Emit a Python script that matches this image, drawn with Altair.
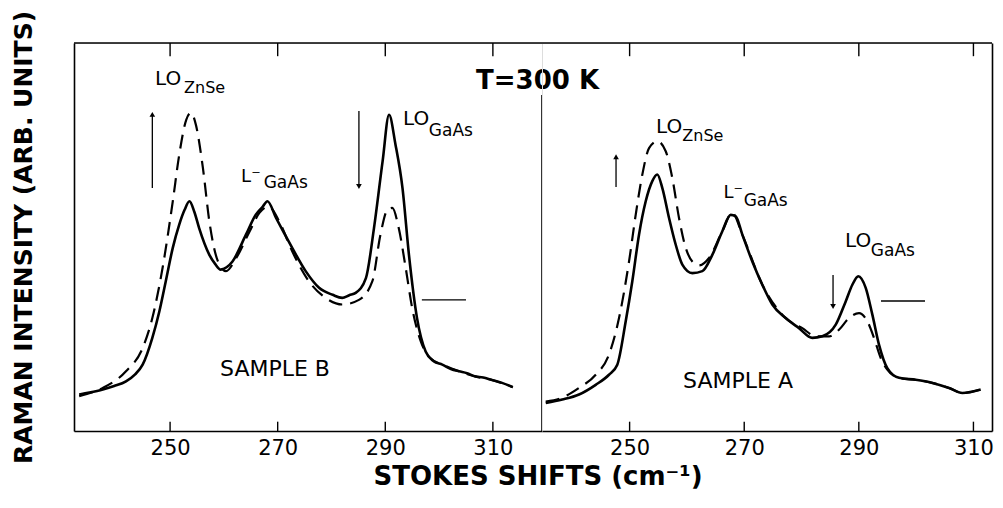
import altair as alt
import pandas as pd

# ---------------- data ----------------
# Sample B (left panel): solid and dashed spectra
B_solid_x = [233.1, 235.0, 237.5, 239.6, 241.8, 243.5, 244.9, 246.7, 248.0, 249.2, 250.5, 251.7, 252.7,
             253.6, 254.5, 255.4, 257.3, 258.4, 259.4, 260.5, 261.6, 264.1, 265.9, 267.2, 268.1, 269.7,
             271.2, 272.7, 275.2, 277.7, 280.2, 282.0, 283.3, 284.5, 286.4, 287.9, 289.5, 290.7, 291.9,
             293.2, 294.4, 295.9, 297.5, 299.0, 300.6, 302.2, 303.7, 305.2, 306.6, 308.2, 309.7, 311.7, 313.7]
B_solid_y = [9.4, 9.9, 10.7, 11.6, 12.8, 14.6, 17.1, 24.0, 30.8, 38.6, 47.2, 53.2, 57.0,
             59.2, 56.5, 52.3, 45.4, 43.0, 41.6, 42.2, 43.7, 50.6, 55.7, 57.8, 59.2, 54.9,
             51.0, 47.2, 41.2, 36.9, 35.1, 34.3, 35.0, 35.6, 39.4, 52.3, 69.5, 81.5, 73.8,
             62.6, 45.4, 29.1, 20.5, 18.0, 17.1, 16.0, 15.4, 14.9, 14.1, 13.8, 13.2, 12.4, 11.3]
B_dash_x = [233.1, 237.5, 241.8, 244.9, 246.7, 248.6, 250.5, 251.7, 253.0, 253.9, 254.8, 256.1, 257.3,
            258.9, 260.4, 262.3, 264.8, 266.6, 268.3, 270.3, 272.7, 275.8, 278.9, 282.0, 285.1, 287.6,
            289.1, 290.4, 291.3, 292.5, 293.8, 295.0, 296.6, 298.5, 300.6, 303.7, 306.6, 309.7, 313.7]
B_dash_y = [9.0, 11.1, 15.4, 21.4, 29.1, 42.0, 59.2, 71.2, 80.2, 82.0, 78.9, 67.8, 54.0,
            43.7, 41.2, 44.6, 51.5, 56.2, 57.9, 54.0, 46.3, 38.6, 34.3, 32.6, 33.8, 38.6,
            50.6, 57.0, 57.5, 52.3, 42.0, 31.7, 23.1, 18.6, 17.1, 15.4, 14.1, 13.2, 11.3]

# Sample A (right panel)
A_solid_x = [235.36, 238.25, 241.17, 244.08, 246.4, 247.85, 249.32, 250.47, 251.64, 252.81, 253.96,
             254.83, 255.71, 256.88, 258.05, 259.2, 260.94, 262.69, 264.43, 266.18, 267.64, 268.52,
             269.67, 271.41, 273.16, 274.9, 277.24, 279.56, 281.88, 283.63, 285.97, 287.71, 288.87,
             289.91, 291.2, 292.36, 293.53, 294.97, 297.02, 299.93, 302.83, 305.74, 308.06, 311.27]
A_solid_y = [7.2, 8.1, 9.4, 11.9, 14.5, 17.1, 28.3, 38.6, 50.6, 59.2, 64.4,
             66.1, 62.6, 54.9, 48.0, 42.9, 40.7, 41.2, 45.4, 51.5, 55.7, 55.3,
             50.6, 43.7, 37.7, 32.6, 29.1, 26.5, 24.0, 24.4, 27.4, 33.4, 37.7,
             39.9, 36.9, 30.0, 22.2, 16.2, 13.7, 13.2, 12.4, 11.1, 9.8, 10.7]
A_dash_x = [235.36, 238.25, 241.17, 244.08, 246.4, 248.15, 249.9, 251.06, 252.22, 253.39, 254.83,
            256.3, 257.45, 258.62, 259.79, 260.94, 262.11, 263.86, 266.18, 267.92, 269.67, 273.16,
            277.24, 280.14, 282.48, 284.8, 286.54, 288.29, 290.03, 291.48, 292.65, 293.82, 294.97,
            297.02, 299.93, 302.83, 305.74, 308.06, 311.27]
A_dash_y = [7.6, 8.6, 11.1, 14.5, 19.7, 29.1, 43.7, 55.7, 66.1, 72.9, 74.7,
            72.1, 65.2, 54.9, 47.2, 43.7, 42.7, 44.6, 51.5, 56.2, 50.6, 37.7,
            29.1, 26.5, 24.4, 24.4, 26.1, 29.1, 30.4, 28.3, 24.0, 18.8, 15.8,
            13.7, 13.2, 12.4, 11.1, 9.8, 10.7]

tick_values = [250, 270, 290, 310]
x_domain_B = [232.14, 319.13]
x_domain_A = [234.71, 313.24]
y_domain = [0, 100]

# annotations: text, x, y (baseline), font size
B_text = ["LO", "ZnSe", "L⁻", "GaAs", "LO", "GaAs"]
B_text_x = [247.2, 252.6, 263.2, 267.4, 293.3, 298.1]
B_text_y = [89.2, 87.1, 64.2, 62.6, 78.9, 76.0]
A_text = ["LO", "ZnSe", "L⁻", "GaAs", "LO", "GaAs"]
A_text_x = [254.6, 259.2, 266.4, 269.9, 287.6, 292.1]
A_text_y = [76.8, 74.7, 60.1, 58.0, 47.4, 45.1]
text_sizes = [20, 16, 18, 17, 20, 17]

B_sample = ("SAMPLE B", 269.5, 14.2)
A_sample = ("SAMPLE A", 268.92, 11.1)

# arrows: x, tail y, tip y
B_arrows = [(246.7, 62.6, 82.5), (285.1, 82.5, 62.1)]
A_arrows = [(247.63, 62.9, 71.6), (285.5, 40.2, 31.2)]
# short reference level lines: y, x1, x2
B_level = (33.8, 296.8, 305.0)
A_level = (33.5, 293.87, 301.55)

FONT = "DejaVu Sans"
H = 388


def panel(sx, sy, dx, dy, xdom, width, texts, tx, ty, sample, arrows, level, left):
    xs = alt.Scale(domain=xdom, nice=False, zero=False)
    ys = alt.Scale(domain=y_domain, nice=False, zero=False)
    xaxis = alt.Axis(values=tick_values, format="d", ticks=False, grid=False, domain=True,
                     domainColor="black", domainWidth=1.6, labelFont=FONT, labelFontSize=21,
                     labelColor="black", labelPadding=6)
    if left:
        yaxis = alt.Axis(labels=False, ticks=False, grid=False, domain=True, domainColor="black",
                         domainWidth=1.6, title="RAMAN INTENSITY (ARB. UNITS)", titleFont=FONT,
                         titleFontSize=25, titleFontWeight="bold", titleColor="black", titlePadding=38)
    else:
        yaxis = alt.Axis(orient="right", labels=False, ticks=False, grid=False, domain=True,
                         domainColor="black", domainWidth=1.6)
    X = alt.X("x:Q", scale=xs, axis=xaxis, title=None)
    Y = alt.Y("y:Q", scale=ys, axis=yaxis, title=("RAMAN INTENSITY (ARB. UNITS)" if left else None))

    solid = alt.Chart(pd.DataFrame({"x": sx, "y": sy})).mark_line(
        color="black", strokeWidth=2.6, interpolate="monotone").encode(x=X, y=Y)
    dashed = alt.Chart(pd.DataFrame({"x": dx, "y": dy})).mark_line(
        color="black", strokeWidth=2.2, strokeDash=[14, 8], interpolate="monotone").encode(x=X, y=Y)

    # frame top line and inward ticks
    top = alt.Chart(pd.DataFrame({"x": [xdom[0]], "x2": [xdom[1]], "y": [100]})).mark_rule(
        color="black", strokeWidth=1.6).encode(x=X, x2="x2:Q", y=Y)
    ticks_b = alt.Chart(pd.DataFrame({"x": tick_values, "y": [0] * 4, "y2": [2.4] * 4})).mark_rule(
        color="black", strokeWidth=1.4).encode(x=X, y=Y, y2="y2:Q")
    ticks_t = alt.Chart(pd.DataFrame({"x": tick_values, "y": [100] * 4, "y2": [96.6] * 4})).mark_rule(
        color="black", strokeWidth=1.4).encode(x=X, y=Y, y2="y2:Q")

    # annotations
    ann = alt.Chart(pd.DataFrame({"x": tx, "y": ty, "t": texts, "fs": text_sizes})).mark_text(
        font=FONT, align="left", baseline="alphabetic", color="black").encode(
        x=X, y=Y, text="t:N", size=alt.Size("fs:Q", scale=None, legend=None))
    samp = alt.Chart(pd.DataFrame({"x": [sample[1]], "y": [sample[2]], "t": [sample[0]]})).mark_text(
        font=FONT, fontSize=22, align="center", baseline="alphabetic", color="black").encode(
        x=X, y=Y, text="t:N")

    ax = [a[0] for a in arrows]
    tail = [a[1] for a in arrows]
    tip = [a[2] for a in arrows]
    shaft_end = [t + (-1.2 if t > b else 1.2) for b, t in zip(tail, tip)]
    shafts = alt.Chart(pd.DataFrame({"x": ax, "y": tail, "y2": shaft_end})).mark_rule(
        color="black", strokeWidth=1.3).encode(x=X, y=Y, y2="y2:Q")
    head_y = [t + (-0.9 if t > b else 0.9) for b, t in zip(tail, tip)]
    head_shape = ["triangle-up" if t > b else "triangle-down" for b, t in zip(tail, tip)]
    heads = alt.Chart(pd.DataFrame({"x": ax, "y": head_y, "s": head_shape})).mark_point(
        filled=True, color="black", size=32, opacity=1).encode(
        x=X, y=Y, shape=alt.Shape("s:N", scale=alt.Scale(domain=["triangle-up", "triangle-down"],
                                                          range=["triangle-up", "triangle-down"]),
                                  legend=None))
    lvl = alt.Chart(pd.DataFrame({"x": [level[1]], "x2": [level[2]], "y": [level[0]]})).mark_rule(
        color="black", strokeWidth=1.3).encode(x=X, x2="x2:Q", y=Y)

    layers = [top, ticks_b, ticks_t, dashed, solid, ann, samp, shafts, heads, lvl]
    if left:
        divider = alt.Chart(pd.DataFrame({"x": [xdom[1]], "y": [0], "y2": [86.6]})).mark_rule(
            color="black", strokeWidth=1.6).encode(x=X, y=Y, y2="y2:Q")
        t300 = alt.Chart(pd.DataFrame({"x": [318.3], "y": [88.1], "t": ["T=300 K"]})).mark_text(
            font=FONT, fontSize=26, fontWeight="bold", align="center", baseline="alphabetic",
            color="black").encode(x=X, y=Y, text="t:N")
        xtitle = alt.Chart(pd.DataFrame({"x": [318.4], "y": [-14.0], "t": ["STOKES SHIFTS (cm⁻¹)"]})).mark_text(
            font=FONT, fontSize=26, fontWeight="bold", align="center", baseline="alphabetic",
            color="black").encode(x=X, y=Y, text="t:N")
        layers += [divider, t300, xtitle]
    return alt.layer(*layers).properties(width=width, height=H)


left = panel(B_solid_x, B_solid_y, B_dash_x, B_dash_y, x_domain_B, 468, B_text, B_text_x, B_text_y,
             B_sample, B_arrows, B_level, True)
right = panel(A_solid_x, A_solid_y, A_dash_x, A_dash_y, x_domain_A, 450, A_text, A_text_x, A_text_y,
              A_sample, A_arrows, A_level, False)

chart = alt.hconcat(left, right, spacing=0, bounds="flush").properties(
    padding={"left": 2, "top": 1, "right": 0, "bottom": 0}
).configure_view(stroke="transparent").configure(background="white")

chart.save("out.html", embed_options={"renderer": "svg", "actions": False})
